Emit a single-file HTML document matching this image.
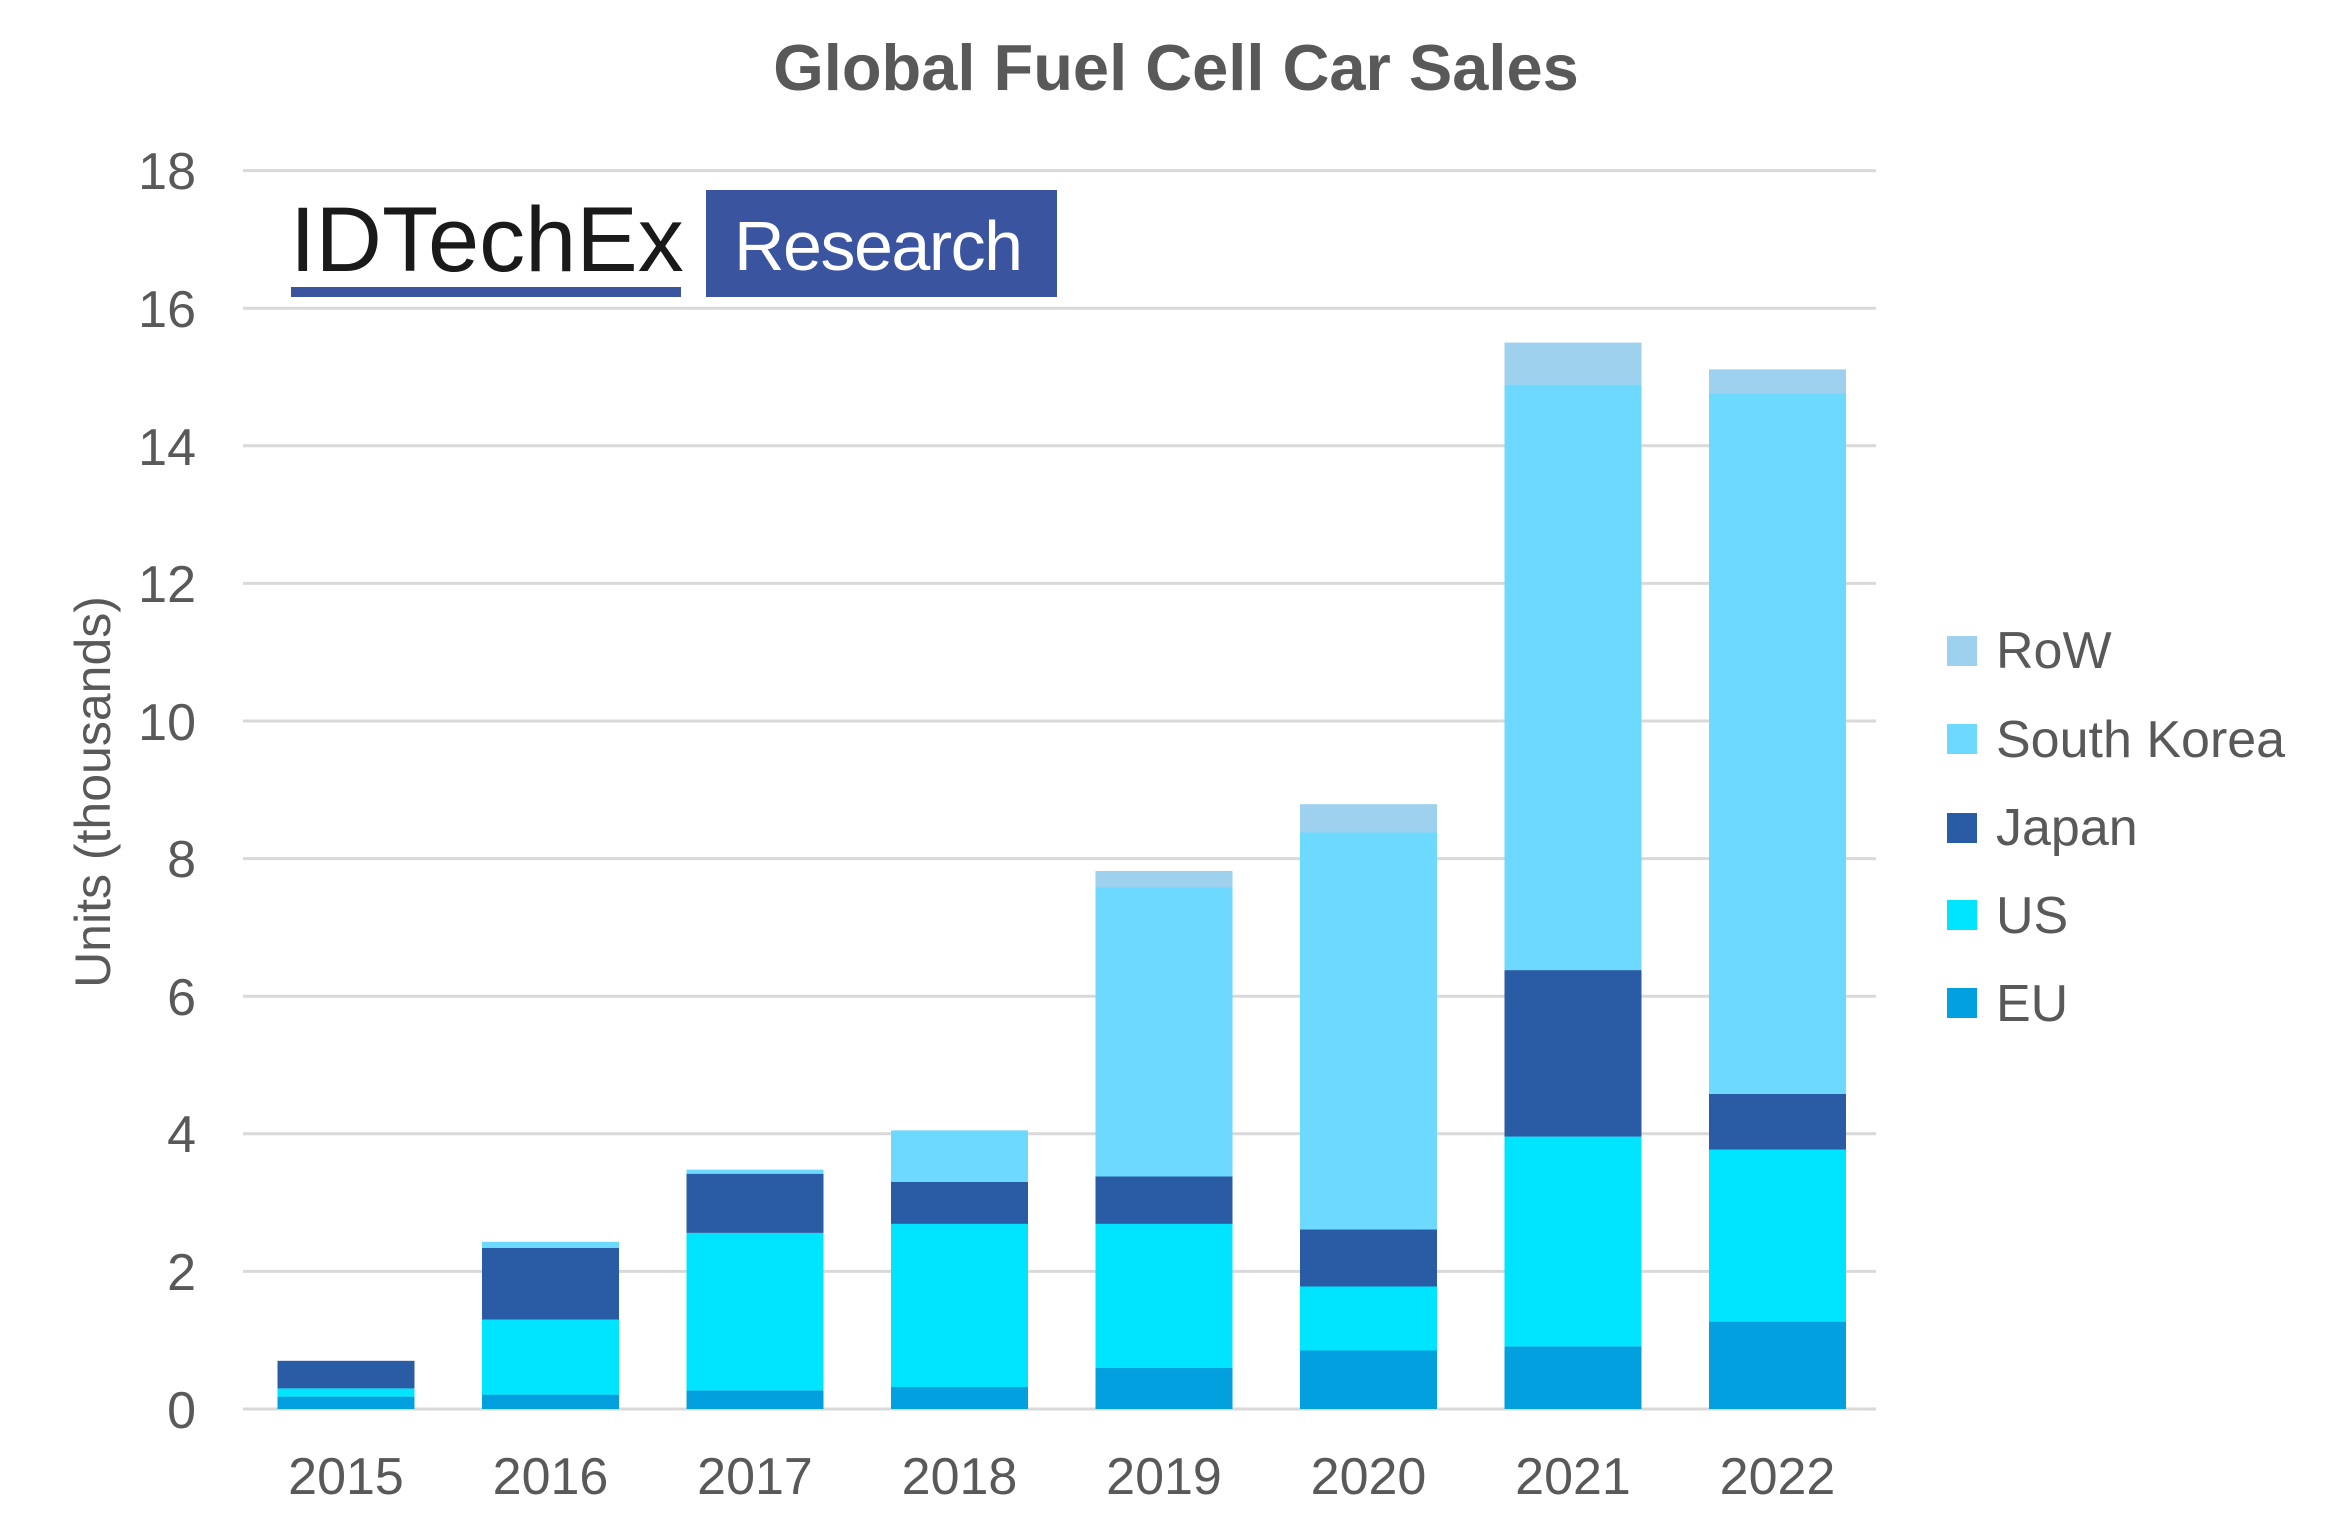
<!DOCTYPE html>
<html><head><meta charset="utf-8"><style>html,body{margin:0;padding:0;background:#fff}</style></head>
<body>
<svg width="2342" height="1534" viewBox="0 0 2342 1534" xmlns="http://www.w3.org/2000/svg" font-family="Liberation Sans, Arial, sans-serif">
<rect width="2342" height="1534" fill="#fff"/>
<text x="1176" y="90" text-anchor="middle" font-size="65" font-weight="bold" fill="#595959">Global Fuel Cell Car Sales</text>
<g stroke="#d9d9d9" stroke-width="3">
<line x1="243" x2="1876" y1="1409" y2="1409"/>
<line x1="243" x2="1876" y1="1271.4" y2="1271.4"/>
<line x1="243" x2="1876" y1="1133.8" y2="1133.8"/>
<line x1="243" x2="1876" y1="996.2" y2="996.2"/>
<line x1="243" x2="1876" y1="858.6" y2="858.6"/>
<line x1="243" x2="1876" y1="721" y2="721"/>
<line x1="243" x2="1876" y1="583.4" y2="583.4"/>
<line x1="243" x2="1876" y1="445.8" y2="445.8"/>
<line x1="243" x2="1876" y1="308.2" y2="308.2"/>
<line x1="243" x2="1876" y1="170.6" y2="170.6"/>
</g>
<g font-size="52" fill="#595959" text-anchor="end">
<text x="196" y="1428">0</text><text x="196" y="1290">2</text><text x="196" y="1152">4</text><text x="196" y="1015">6</text><text x="196" y="877">8</text><text x="196" y="740">10</text><text x="196" y="602">12</text><text x="196" y="465">14</text><text x="196" y="327">16</text><text x="196" y="189">18</text>
</g>
<text transform="translate(110,792) rotate(-90)" text-anchor="middle" font-size="50" fill="#595959">Units (thousands)</text>
<g>
<rect x="277.5" y="1396.6" width="137" height="12.4" fill="#03a0e0"/>
<rect x="277.5" y="1388.4" width="137" height="8.2" fill="#00e5ff"/>
<rect x="277.5" y="1360.8" width="137" height="27.6" fill="#2a5ca6"/>

<rect x="482" y="1394.6" width="137" height="14.4" fill="#03a0e0"/>
<rect x="482" y="1319.6" width="137" height="75" fill="#00e5ff"/>
<rect x="482" y="1248" width="137" height="71.6" fill="#2a5ca6"/>
<rect x="482" y="1241.8" width="137" height="6.2" fill="#6dd9ff"/>

<rect x="686.5" y="1390.4" width="137" height="18.6" fill="#03a0e0"/>
<rect x="686.5" y="1232.9" width="137" height="157.5" fill="#00e5ff"/>
<rect x="686.5" y="1173.7" width="137" height="59.2" fill="#2a5ca6"/>
<rect x="686.5" y="1169.6" width="137" height="4.1" fill="#6dd9ff"/>

<rect x="891" y="1387" width="137" height="22" fill="#03a0e0"/>
<rect x="891" y="1223.9" width="137" height="163.1" fill="#00e5ff"/>
<rect x="891" y="1182" width="137" height="41.9" fill="#2a5ca6"/>
<rect x="891" y="1130.4" width="137" height="51.6" fill="#6dd9ff"/>

<rect x="1095.5" y="1367.7" width="137" height="41.3" fill="#03a0e0"/>
<rect x="1095.5" y="1223.9" width="137" height="143.8" fill="#00e5ff"/>
<rect x="1095.5" y="1176.5" width="137" height="47.4" fill="#2a5ca6"/>
<rect x="1095.5" y="887.5" width="137" height="289" fill="#6dd9ff"/>
<rect x="1095.5" y="871" width="137" height="16.5" fill="#9dd1ee"/>

<rect x="1300" y="1350.5" width="137" height="58.5" fill="#03a0e0"/>
<rect x="1300" y="1286.5" width="137" height="64" fill="#00e5ff"/>
<rect x="1300" y="1229.4" width="137" height="57.1" fill="#2a5ca6"/>
<rect x="1300" y="832.5" width="137" height="396.9" fill="#6dd9ff"/>
<rect x="1300" y="804.2" width="137" height="28.3" fill="#9dd1ee"/>

<rect x="1504.5" y="1346.4" width="137" height="62.6" fill="#03a0e0"/>
<rect x="1504.5" y="1136.6" width="137" height="209.8" fill="#00e5ff"/>
<rect x="1504.5" y="970.1" width="137" height="166.5" fill="#2a5ca6"/>
<rect x="1504.5" y="384.6" width="137" height="585.5" fill="#6dd9ff"/>
<rect x="1504.5" y="342.6" width="137" height="42" fill="#9dd1ee"/>

<rect x="1709" y="1321.6" width="137" height="87.4" fill="#03a0e0"/>
<rect x="1709" y="1149.6" width="137" height="172" fill="#00e5ff"/>
<rect x="1709" y="1093.9" width="137" height="55.7" fill="#2a5ca6"/>
<rect x="1709" y="393.5" width="137" height="700.4" fill="#6dd9ff"/>
<rect x="1709" y="369.4" width="137" height="24.1" fill="#9dd1ee"/>
</g>
<g font-size="52" fill="#595959" text-anchor="middle">
<text x="346" y="1494">2015</text><text x="550.5" y="1494">2016</text><text x="755" y="1494">2017</text><text x="959.5" y="1494">2018</text><text x="1164" y="1494">2019</text><text x="1368.5" y="1494">2020</text><text x="1573" y="1494">2021</text><text x="1777.5" y="1494">2022</text>
</g>
<g font-size="52" fill="#595959">
<rect x="1947" y="636" width="30" height="30" fill="#9dd1ee"/><text x="1996" y="668">RoW</text>
<rect x="1947" y="724" width="30" height="30" fill="#6dd9ff"/><text x="1996" y="757">South Korea</text>
<rect x="1947" y="813" width="30" height="30" fill="#2a5ca6"/><text x="1996" y="845">Japan</text>
<rect x="1947" y="900" width="30" height="30" fill="#00e5ff"/><text x="1996" y="933">US</text>
<rect x="1947" y="988" width="30" height="30" fill="#03a0e0"/><text x="1996" y="1021">EU</text>
</g>
<text x="290" y="271" font-size="92" fill="#1a1a1a" letter-spacing="0">IDTechEx</text>
<rect x="291" y="287" width="390" height="10" fill="#3b54a0"/>
<rect x="706" y="190" width="351" height="107" fill="#3b54a0"/>
<text x="734" y="270" font-size="70" fill="#fff" letter-spacing="-1.5">Research</text>
</svg>
</body></html>
